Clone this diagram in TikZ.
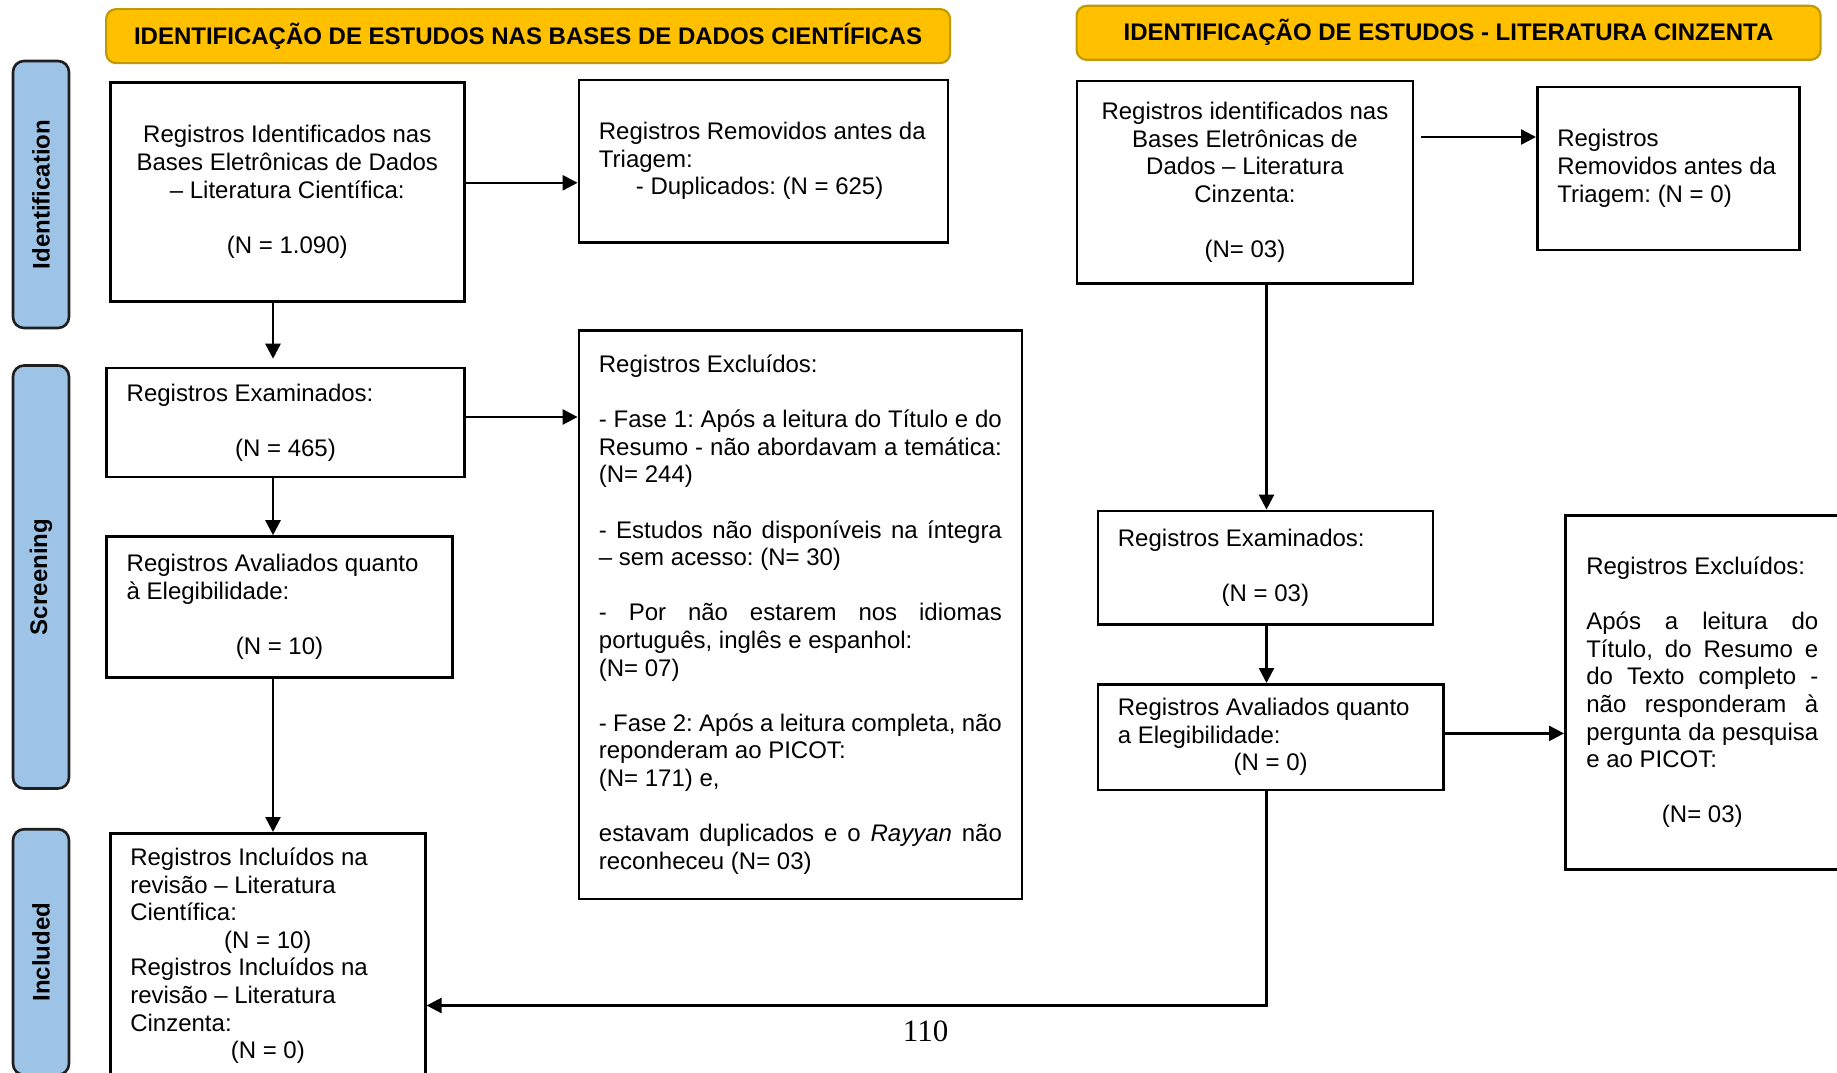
\documentclass[tikz,border=0pt]{standalone}
\usepackage{fontspec}
\setmainfont{Liberation Sans}
\newfontfamily\pagefont{Liberation Serif}
\usetikzlibrary{arrows.meta}
\frenchspacing

% a line stretched to the full text width (justified)
\newcommand\jline[1]{\makebox[\linewidth][s]{#1}}
% a line centred within the text width
\newcommand\cenline[1]{\makebox[\linewidth]{#1}}

\definecolor{hdrfill}{HTML}{FFC000}
\definecolor{hdrline}{HTML}{C09A00}
\definecolor{barfill}{HTML}{9DC3E6}
\definecolor{barline}{HTML}{1E1E1E}

\tikzset{
  box/.style={draw=black, line width=2.6pt, rectangle, inner xsep=20pt, inner ysep=0pt,
    align=flush left, anchor=north west, font=\fontsize{24}{27.6}\selectfont},
  hdr/.style={draw=hdrline, fill=hdrfill, line width=2.2pt, rounded corners=10pt,
    anchor=north west, inner sep=0pt, font=\bfseries\fontsize{24}{28}\selectfont},
  sidebar/.style={draw=barline, fill=barfill, line width=2.6pt, rounded corners=11pt,
    rotate=90, minimum height=56pt, inner sep=0pt, font=\bfseries\fontsize{24}{28}\selectfont},
  arr/.style={draw=black, line width=2.5pt, -{Triangle[length=15pt,width=15pt]}},
}

\begin{document}
\begin{tikzpicture}[x=1pt,y=-1pt]
\useasboundingbox (0,0) rectangle (1837,1072);
\clip (0,0) rectangle (1837,1072);

% section headers
\node[hdr, minimum width=844pt, minimum height=54pt] (hdr1) at (105,8)
  {IDENTIFICAÇÃO DE ESTUDOS NAS BASES DE DADOS CIENTÍFICAS};
\node[hdr, minimum width=744pt, minimum height=54pt] (hdr2) at (1075.5,4.7)
  {IDENTIFICAÇÃO DE ESTUDOS - LITERATURA CINZENTA};

% phase bars
\node[sidebar, minimum width=267pt] (bar1) at (41,194.5) {Identification};
\node[sidebar, minimum width=423pt] (bar2) at (41,577) {Screening};
\node[sidebar, minimum width=245.5pt] (bar3) at (41,952) {Included};

% scientific databases column
\node[box, align=flush center, minimum width=354pt, minimum height=219pt, text width=314pt] (id1) at (109,81)
  {Registros Identificados nas\\ Bases Eletrônicas de Dados\\ – Literatura Científica:\\[27.6pt] (N = 1.090)};

\node[box, minimum width=369pt, minimum height=162.5pt, text width=329pt] (rem1) at (577.6,78.5)
  {Registros Removidos antes da\\ Triagem:\\ \hspace*{37pt}- Duplicados: (N = 625)};

\node[box, minimum width=357.6pt, minimum height=109pt, text width=317.6pt] (exam1) at (105.4,366.7)
  {Registros Examinados:\\[27.6pt] \cenline{(N = 465)}};

\node[box, minimum width=345.6pt, minimum height=141pt, text width=305.6pt] (aval1) at (105.4,535.2)
  {Registros Avaliados quanto\\ à Elegibilidade:\\[27.6pt] \cenline{(N = 10)}};

\node[box, minimum width=443pt, minimum height=568.5pt, text width=403pt] (excl1) at (577.6,329)
  {Registros Excluídos:\\[27.6pt]
   \jline{- Fase 1: Após a leitura do Título e do}\\
   \jline{Resumo - não abordavam a temática:}\\
   (N= 244)\\[27.6pt]
   \jline{- Estudos não disponíveis na íntegra}\\
   – sem acesso: (N= 30)\\[27.6pt]
   \jline{- Por não estarem nos idiomas}\\
   português, inglês e espanhol:\\
   (N= 07)\\[27.6pt]
   \jline{- Fase 2: Após a leitura completa, não}\\
   reponderam ao PICOT:\\
   (N= 171) e,\\[27.6pt]
   \jline{estavam duplicados e o \textit{Rayyan} não}\\
   reconheceu (N= 03)};

\node[box, minimum width=315pt, minimum height=245pt, text width=275pt] (incl) at (109,832)
  {Registros Incluídos na\\ revisão – Literatura\\ Científica:\\ \cenline{(N = 10)}\\
   Registros Incluídos na\\ revisão – Literatura\\ Cinzenta:\\ \cenline{(N = 0)}};

% grey literature column
\node[box, align=flush center, minimum width=336.3pt, minimum height=202.7pt, text width=296.3pt] (id2) at (1075.5,79.7)
  {Registros identificados nas\\ Bases Eletrônicas de\\ Dados – Literatura\\ Cinzenta:\\[27.6pt] (N= 03)};

\node[box, minimum width=262pt, minimum height=163pt, text width=222pt] (rem2) at (1536,85.5)
  {Registros\\ Removidos antes da\\ Triagem: (N = 0)};

\node[box, minimum width=335pt, minimum height=113.7pt, text width=295pt] (exam2) at (1096.6,509.6)
  {Registros Examinados:\\[27.6pt] \cenline{(N = 03)}};

\node[box, minimum width=345.6pt, minimum height=105.5pt, text width=305.6pt] (aval2) at (1096.6,683)
  {Registros Avaliados quanto\\ a Elegibilidade:\\ \cenline{(N = 0)}};

\node[box, inner xsep=21pt, minimum width=274pt, minimum height=354pt, text width=232pt] (excl2) at (1564,514)
  {Registros Excluídos:\\[27.6pt]
   \jline{Após a leitura do}\\
   \jline{Título, do Resumo e}\\
   \jline{do Texto completo -}\\
   \jline{não responderam à}\\
   \jline{pergunta da pesquisa}\\
   e ao PICOT:\\[27.6pt]
   \cenline{(N= 03)}};

% page number
\node[font=\pagefont\fontsize{31}{31}\selectfont, inner sep=0pt] (pgno) at (925.6,1031) {110};

% guide positions for the connectors
\coordinate (cxL) at (273,0);
\coordinate (cxR) at (1266.5,0);
\coordinate (cy1) at (0,182.8);
\coordinate (cy2) at (0,417);
\coordinate (cy3) at (0,137);
\coordinate (cy4) at (0,733.4);
\coordinate (cy5) at (0,1005.5);

% connectors
\draw[arr] (id1.east |- cy1) -- (rem1.west |- cy1);
\draw[arr, shorten >=8pt] (id1.south -| cxL) -- (exam1.north -| cxL);
\draw[arr] (exam1.east |- cy2) -- (excl1.west |- cy2);
\draw[arr] (exam1.south -| cxL) -- (aval1.north -| cxL);
\draw[arr] (aval1.south -| cxL) -- (incl.north -| cxL);

\draw[arr, shorten <=7pt] (id2.east |- cy3) -- (rem2.west |- cy3);
\draw[arr] (id2.south -| cxR) -- (exam2.north -| cxR);
\draw[arr] (exam2.south -| cxR) -- (aval2.north -| cxR);
\draw[arr] (aval2.east |- cy4) -- (excl2.west |- cy4);
\draw[arr] (aval2.south -| cxR) |- (incl.east |- cy5);
\end{tikzpicture}
\end{document}
